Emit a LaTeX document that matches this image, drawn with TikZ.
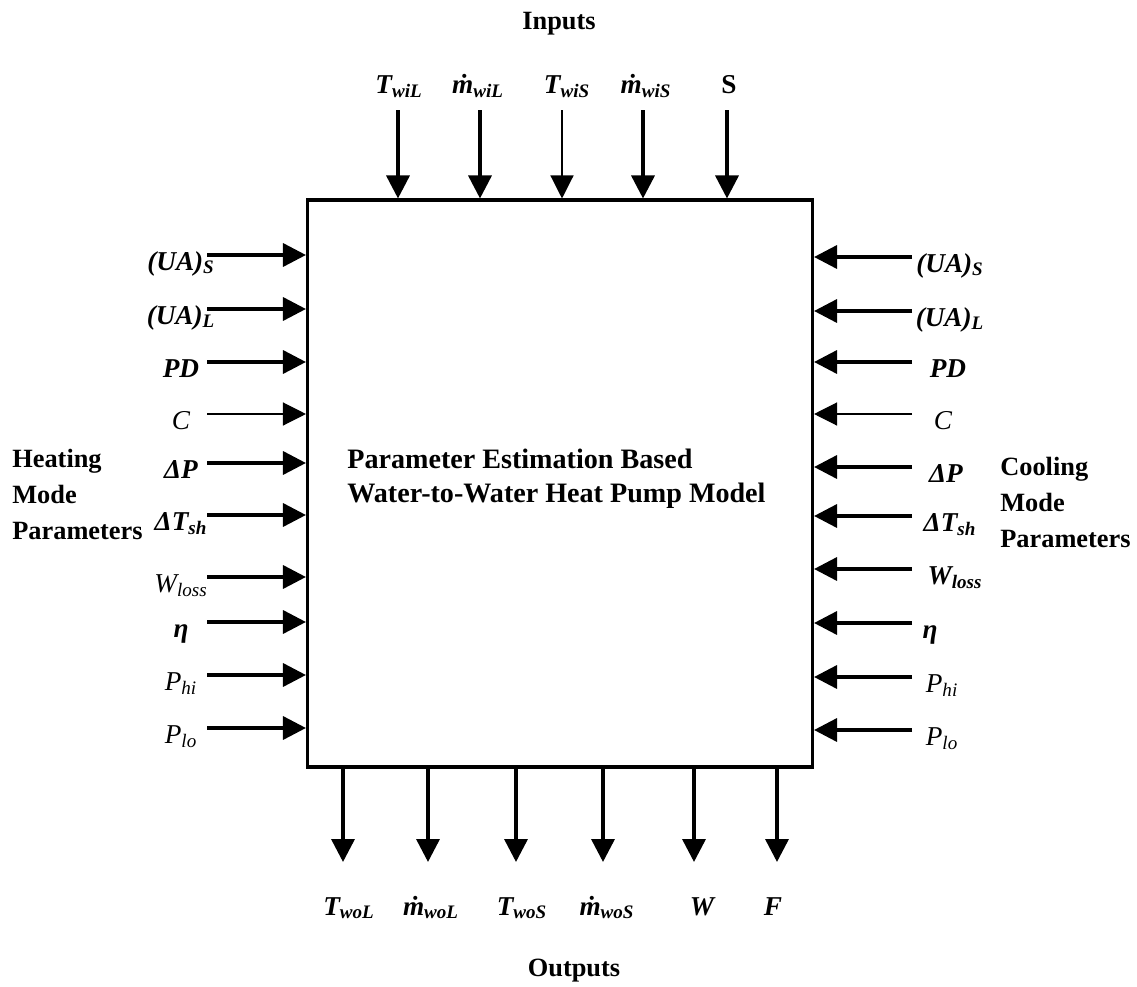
\documentclass[tikz,border=0pt]{standalone}
\usepackage{fontspec}
\setmainfont{Liberation Serif}
\usetikzlibrary{arrows.meta,positioning}

\tikzset{
  inarr/.style={-{Triangle[length=0.46cm,width=0.46cm]}, line width=2pt},
  thinarr/.style={-{Triangle[length=0.46cm,width=0.46cm]}, line width=0.7pt},
  modelbox/.style={draw, line width=1.8pt, minimum width=10.1cm, minimum height=11.34cm, inner sep=0pt},
  varlbl/.style={font=\fontsize{15.5}{18}\selectfont\itshape, inner sep=0pt, anchor=base},
  grouptext/.style={font=\fontsize{15}{20.4}\selectfont\bfseries, inner sep=0pt, align=left},
  boxtext/.style={font=\fontsize{16}{19.3}\selectfont\bfseries, inner sep=0pt, align=left}
}

\begin{document}
\begin{tikzpicture}[x=0.02cm, y=-0.02cm]
  \useasboundingbox (0,0) rectangle (1137,987);
  % Model block
  \node[modelbox] (model) at (560,483.5) {};
  \node[boxtext, anchor=base west] (title) at (347,502) {Parameter Estimation Based\\Water-to-Water Heat Pump Model};
  % Inputs (top)
  \node[grouptext, anchor=base] (inputs) at (559,30) {Inputs};
  \foreach \ax/\lx/\txt/\sty [count=\i] in {
      398/399/{\bfseries T\textsubscript{wiL}}/inarr,
      480/478/{\bfseries \.m\textsubscript{wiL}}/inarr,
      562/567/{\bfseries T\textsubscript{wiS}}/thinarr,
      643/646/{\bfseries \.m\textsubscript{wiS}}/inarr,
      727/729/{\bfseries\upshape S}/inarr} {
    \node[varlbl] (in\i) at (\lx,93) {\txt};
    \coordinate (ina\i) at (\ax,110);
    \draw[\sty] (ina\i) -- (ina\i |- model.north);
  }
  % Heating mode parameters (left)
  \node[grouptext, anchor=base west] (heating) at (12,539) {Heating\\Mode\\Parameters};
  \foreach \y/\txt/\sty [count=\i] in {
      255/{\bfseries (UA)\textsubscript{S}}/inarr,
      309/{\bfseries (UA)\textsubscript{L}}/inarr,
      362/{\bfseries PD}/inarr,
      414/{C}/thinarr,
      463/{\bfseries ΔP}/inarr,
      515/{\bfseries ΔT\textsubscript{sh}}/inarr,
      577/{W\textsubscript{loss}}/inarr,
      622/{\bfseries η}/inarr,
      675/{P\textsubscript{hi}}/inarr,
      728/{P\textsubscript{lo}}/inarr} {
    \node[varlbl] (hp\i) at (181,\y+15) {\txt};
    \coordinate (hpa\i) at (207,\y);
    \draw[\sty] (hpa\i) -- (hpa\i -| model.west);
  }
  % Cooling mode parameters (right)
  \node[grouptext, anchor=base west] (cooling) at (1000,547) {Cooling\\Mode\\Parameters};
  \foreach \y/\lx/\txt/\sty [count=\i] in {
      257/950/{\bfseries (UA)\textsubscript{S}}/inarr,
      311/950/{\bfseries (UA)\textsubscript{L}}/inarr,
      362/948/{\bfseries PD}/inarr,
      414/943/{C}/thinarr,
      467/946/{\bfseries ΔP}/inarr,
      516/950/{\bfseries ΔT\textsubscript{sh}}/inarr,
      569/955/{\bfseries W\textsubscript{loss}}/inarr,
      623/930/{\bfseries η}/inarr,
      677/942/{P\textsubscript{hi}}/inarr,
      730/942/{P\textsubscript{lo}}/inarr} {
    \node[varlbl] (cp\i) at (\lx,\y+15) {\txt};
    \coordinate (cpa\i) at (912,\y);
    \draw[\sty] (cpa\i) -- (cpa\i -| model.east);
  }
  % Outputs (bottom)
  \foreach \ax/\lx/\txt [count=\i] in {
      343/349/{T\textsubscript{woL}},
      428/431/{\.m\textsubscript{woL}},
      516/522/{T\textsubscript{woS}},
      603/607/{\.m\textsubscript{woS}},
      694/702/{W},
      777/773/{F}} {
    \node[varlbl, font=\fontsize{15.5}{18}\selectfont\bfseries\itshape] (out\i) at (\lx,915) {\txt};
    \coordinate (outa\i) at (\ax,862);
    \draw[inarr] (model.south -| outa\i) -- (outa\i);
  }
  \node[grouptext, anchor=base] (outputs) at (574,976) {Outputs};
\end{tikzpicture}
\end{document}
